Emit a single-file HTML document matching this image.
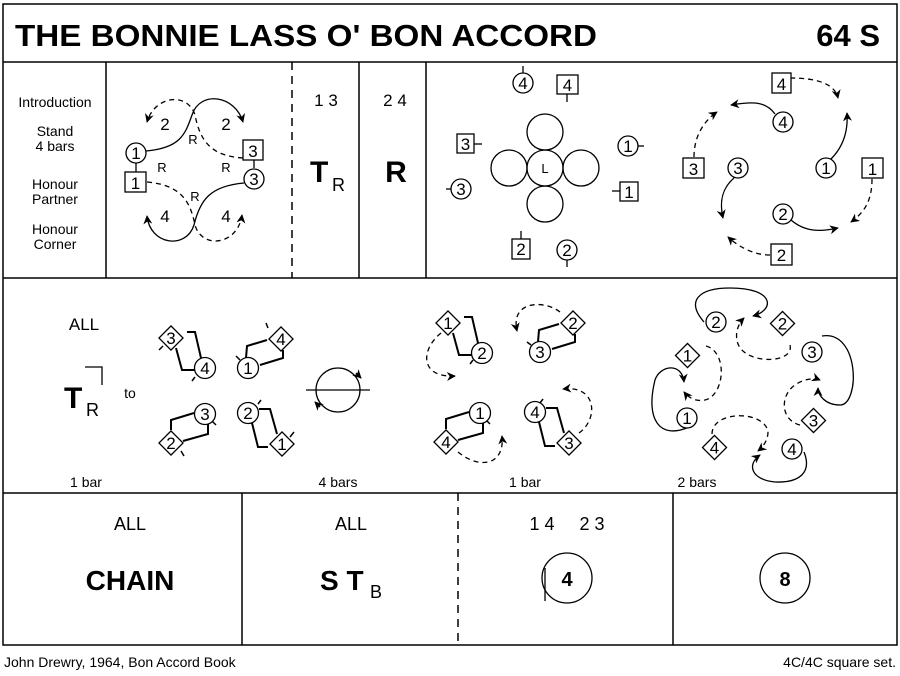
<!DOCTYPE html>
<html><head><meta charset="utf-8"><style>
html,body{margin:0;padding:0;background:#fff}
svg{display:block}
text{font-family:"Liberation Sans",Arial,sans-serif;fill:#000}
</style></head><body>
<svg width="900" height="676" viewBox="0 0 900 676" xmlns="http://www.w3.org/2000/svg">
<defs>
<marker id="a" viewBox="0 0 10 10" refX="9" refY="5" markerWidth="9" markerHeight="9" orient="auto" markerUnits="userSpaceOnUse">
<path d="M0,0 L10,5 L0,10 L3,5 z" fill="#000"/>
</marker>
</defs>
<g fill="none" stroke="#000" stroke-width="1.5">
<rect x="3" y="4" width="894" height="641"/>
<line x1="3" y1="62" x2="897" y2="62"/>
<line x1="3" y1="278" x2="897" y2="278"/>
<line x1="3" y1="493" x2="897" y2="493"/>
<line x1="106" y1="62" x2="106" y2="278"/>
<line x1="292" y1="62" x2="292" y2="278" stroke-dasharray="8,6"/>
<line x1="359" y1="62" x2="359" y2="278"/>
<line x1="426" y1="62" x2="426" y2="278"/>
<line x1="242" y1="493" x2="242" y2="645"/>
<line x1="458" y1="493" x2="458" y2="645" stroke-dasharray="8,6"/>
<line x1="673" y1="493" x2="673" y2="645"/>
</g>
<text x="15" y="46" font-size="31" font-weight="bold" textLength="582" lengthAdjust="spacingAndGlyphs">THE BONNIE LASS O' BON ACCORD</text>
<text x="880" y="46" font-size="31" font-weight="bold" text-anchor="end">64 S</text>

<g font-size="14" text-anchor="middle">
<text x="55" y="107">Introduction</text>
<text x="55" y="136">Stand</text><text x="55" y="151">4 bars</text>
<text x="55" y="189">Honour</text><text x="55" y="204">Partner</text>
<text x="55" y="234">Honour</text><text x="55" y="249">Corner</text>
</g>

<!-- panel 2 -->
<g fill="none" stroke="#000" stroke-width="1.3">
<path d="M146,151 C180,148 185,135 192,115 C200,90 235,95 243,122" marker-end="url(#a)"/>
<path d="M243,158 C210,156 200,140 195,115 C188,92 155,95 147,122" stroke-dasharray="5,4" marker-end="url(#a)"/>
<path d="M147,182 C180,185 190,200 195,225 C202,250 238,245 242,215" stroke-dasharray="5,4" marker-end="url(#a)"/>
<path d="M244,183 C210,186 200,200 194,225 C186,250 150,245 147,216" marker-end="url(#a)"/>
<circle cx="136" cy="153" r="10" fill="#fff"/>
<line x1="136" y1="163" x2="136" y2="172"/>
<rect x="125" y="172" width="21" height="20" fill="#fff"/>
<rect x="243" y="140" width="20" height="20" fill="#fff"/>
<line x1="254" y1="160" x2="254" y2="168"/>
<circle cx="254" cy="179" r="10" fill="#fff"/>
</g>
<g font-size="17" text-anchor="middle">
<text x="136" y="159">1</text><text x="135.5" y="189">1</text>
<text x="253" y="157">3</text><text x="254" y="185">3</text>
<text x="165" y="130">2</text><text x="226" y="130">2</text>
<text x="165" y="222">4</text><text x="226" y="222">4</text>
</g>
<g font-size="13" text-anchor="middle">
<text x="193" y="144">R</text><text x="162" y="172">R</text><text x="226" y="172">R</text><text x="195" y="201">R</text>
</g>

<g font-size="17" text-anchor="middle">
<text x="326" y="106">1 3</text><text x="395" y="106">2 4</text>
</g>
<text x="310" y="182" font-size="30" font-weight="bold">T</text>
<text x="332" y="191" font-size="18">R</text>
<text x="396" y="182" font-size="30" font-weight="bold" text-anchor="middle">R</text>

<!-- panel 5 -->
<g fill="none" stroke="#000" stroke-width="1.3">
<circle cx="545" cy="132" r="18"/><circle cx="545" cy="168" r="18"/>
<circle cx="509" cy="168" r="18"/><circle cx="581" cy="168" r="18"/>
<circle cx="545" cy="204" r="18"/>
<circle cx="523" cy="83" r="10"/><line x1="523" y1="73" x2="523" y2="66"/>
<rect x="557" y="75" width="21" height="19"/><line x1="567" y1="94" x2="567" y2="102"/>
<rect x="457" y="134" width="17" height="19"/><line x1="474" y1="144" x2="482" y2="144"/>
<circle cx="461" cy="189" r="10"/><line x1="451" y1="189" x2="446" y2="189"/>
<circle cx="628" cy="146" r="10"/><line x1="638" y1="146" x2="644" y2="146"/>
<rect x="620" y="182" width="18" height="19"/><line x1="620" y1="191" x2="612" y2="191"/>
<rect x="512" y="239" width="18" height="20"/><line x1="521" y1="239" x2="521" y2="231"/>
<circle cx="567" cy="250" r="10"/><line x1="567" y1="260" x2="567" y2="267"/>
</g>
<g font-size="17" text-anchor="middle">
<text x="523" y="89">4</text><text x="567.5" y="91">4</text><text x="465.5" y="150">3</text>
<text x="461" y="195">3</text><text x="628" y="152">1</text><text x="629" y="198">1</text>
<text x="521" y="255">2</text><text x="567" y="256">2</text>
</g>
<text x="545" y="173" font-size="13" text-anchor="middle">L</text>

<!-- panel 6 -->
<g fill="none" stroke="#000" stroke-width="1.3">
<path d="M790,78 C820,78 835,85 838,98" stroke-dasharray="5,4" marker-end="url(#a)"/>
<path d="M775,114 C765,100 750,102 731,105" marker-end="url(#a)"/>
<path d="M694,157 C694,135 705,120 717,112" stroke-dasharray="5,4" marker-end="url(#a)"/>
<path d="M734,178 C720,190 720,205 723,218" marker-end="url(#a)"/>
<path d="M831,159 C845,145 848,128 847,113" marker-end="url(#a)"/>
<path d="M872,179 C872,200 865,212 851,222" stroke-dasharray="5,4" marker-end="url(#a)"/>
<path d="M791,220 C805,232 820,232 838,228" marker-end="url(#a)"/>
<path d="M770,255 C755,255 740,248 728,237" stroke-dasharray="5,4" marker-end="url(#a)"/>
<rect x="772" y="73" width="19" height="20" fill="#fff"/>
<circle cx="783" cy="122" r="10" fill="#fff"/>
<rect x="683" y="158" width="21" height="20" fill="#fff"/>
<circle cx="738" cy="168" r="10" fill="#fff"/>
<circle cx="826" cy="168" r="10" fill="#fff"/>
<rect x="862" y="158" width="21" height="20" fill="#fff"/>
<circle cx="783" cy="214" r="10" fill="#fff"/>
<rect x="771" y="244" width="21" height="21" fill="#fff"/>
</g>
<g font-size="17" text-anchor="middle">
<text x="781.5" y="90">4</text><text x="783" y="128">4</text><text x="693.5" y="175">3</text>
<text x="738" y="174">3</text><text x="826" y="174">1</text><text x="872.5" y="175">1</text>
<text x="783" y="220">2</text><text x="781.5" y="261">2</text>
</g>

<!-- row 2 -->
<text x="84" y="330" font-size="17" text-anchor="middle">ALL</text>
<text x="64" y="408" font-size="30" font-weight="bold">T</text>
<text x="86" y="416" font-size="18">R</text>
<path d="M85,367 L102,367 L102,385" fill="none" stroke="#000" stroke-width="1.3"/>
<text x="130" y="398" font-size="14" text-anchor="middle">to</text>

<!-- couples group 2 -->
<g fill="none" stroke="#000" stroke-width="2">
<path d="M187,332 L195,332 L201,358 M176,348 L182,370 L195,370"/>
<path d="M267,340 L247,346 L246,358 M260,365 L283,358 L283,350"/>
<path d="M194,413 L171,420 L171,430 M183,441 L208,434 L208,423"/>
<path d="M259,409 L270,409 L277,434 M252,423 L258,447 L268,447"/>
<!-- group 3 copies -->
<g transform="translate(277,-15)"><path d="M187,332 L195,332 L201,358 M176,348 L182,370 L195,370"/></g>
<g transform="translate(292,-16)"><path d="M267,340 L247,346 L246,358 M260,365 L283,358 L283,350"/></g>
<g transform="translate(275,-1)"><path d="M194,413 L171,420 L171,430 M183,441 L208,434 L208,423"/></g>
<g transform="translate(287,-1)"><path d="M259,409 L270,409 L277,434 M252,423 L258,447 L268,447"/></g>
</g>
<g fill="none" stroke="#000" stroke-width="1.5">
<line x1="163" y1="346" x2="159" y2="350"/><line x1="195" y1="377" x2="192" y2="381"/>
<line x1="268" y1="328" x2="266" y2="323"/><line x1="240" y1="360" x2="236" y2="356"/>
<line x1="212" y1="421" x2="216" y2="425"/><line x1="181" y1="451" x2="184" y2="456"/>
<line x1="258" y1="404" x2="261" y2="400"/><line x1="290" y1="437" x2="294" y2="432"/>
<line x1="473" y1="360" x2="470" y2="364"/>
<line x1="531" y1="345" x2="527" y2="342"/>
<line x1="486" y1="420" x2="490" y2="424"/>
<line x1="540" y1="403" x2="543" y2="399"/>
</g>
<g fill="none" stroke="#000" stroke-width="1.3">
<circle cx="338" cy="390" r="22"/>
<line x1="306" y1="390" x2="370" y2="390"/>
<path d="M356,373 L361,378" marker-end="url(#a)"/>
<path d="M320,407 L315,402" marker-end="url(#a)"/>

<path d="M441,333 C420,350 420,378 455,376" stroke-dasharray="5,4" marker-end="url(#a)"/>
<path d="M560,312 C545,300 510,300 517,331" stroke-dasharray="5,4" marker-end="url(#a)"/>
<path d="M458,452 C480,470 505,465 502,436" stroke-dasharray="5,4" marker-end="url(#a)"/>
<path d="M579,433 C598,420 598,385 563,389" stroke-dasharray="5,4" marker-end="url(#a)"/>

<path d="M704,322 C685,300 700,288 730,288 C775,288 775,310 753,316" marker-end="url(#a)"/>
<path d="M790,345 C795,365 740,365 737,340 C735,330 740,322 744,318" stroke-dasharray="5,4" marker-end="url(#a)"/>
<path d="M706,346 C728,352 725,395 705,400 C695,402 688,397 684,392" stroke-dasharray="5,4" marker-end="url(#a)"/>
<path d="M689,427 C660,440 645,420 655,380 C660,365 682,362 684,382" marker-end="url(#a)"/>
<path d="M822,336 C860,330 860,405 840,405 C825,405 818,395 818,388" marker-end="url(#a)"/>
<path d="M800,425 C780,420 780,395 795,385 C805,378 815,378 820,380" stroke-dasharray="5,4" marker-end="url(#a)"/>
<path d="M712,434 C712,410 765,410 768,432 C768,440 763,447 758,451" stroke-dasharray="5,4" marker-end="url(#a)"/>
<path d="M804,452 C812,472 800,483 775,482 C752,480 746,465 760,455" marker-end="url(#a)"/>

<g fill="#fff">
<rect x="162.5" y="329.5" width="17" height="17" transform="rotate(45 171 338)"/>
<circle cx="205" cy="368" r="10.5"/>
<rect x="272.5" y="330.5" width="17" height="17" transform="rotate(45 281 339)"/>
<circle cx="248" cy="368" r="10.5"/>
<circle cx="205" cy="414" r="10.5"/>
<rect x="162.5" y="434.5" width="17" height="17" transform="rotate(45 171 443)"/>
<circle cx="248" cy="413" r="10.5"/>
<rect x="273.5" y="435.5" width="17" height="17" transform="rotate(45 282 444)"/>

<rect x="439.5" y="314.5" width="17" height="17" transform="rotate(45 448 323)"/>
<circle cx="482" cy="353" r="10.5"/>
<rect x="564.5" y="314.5" width="17" height="17" transform="rotate(45 573 323)"/>
<circle cx="540" cy="352" r="10.5"/>
<circle cx="480" cy="413" r="10.5"/>
<rect x="437.5" y="433.5" width="17" height="17" transform="rotate(45 446 442)"/>
<circle cx="535" cy="412" r="10.5"/>
<rect x="560.5" y="434.5" width="17" height="17" transform="rotate(45 569 443)"/>

<circle cx="716" cy="322" r="10"/>
<rect x="774" y="315" width="17" height="17" transform="rotate(45 782.5 323.5)"/>
<circle cx="812" cy="352" r="10"/>
<rect x="805" y="412" width="17" height="17" transform="rotate(45 813.5 420.5)"/>
<circle cx="792" cy="449" r="10"/>
<rect x="706" y="439" width="17" height="17" transform="rotate(45 714.5 447.5)"/>
<circle cx="687" cy="418" r="10"/>
<rect x="679" y="347" width="17" height="17" transform="rotate(45 687.5 355.5)"/>
</g>
</g>
<g font-size="17" text-anchor="middle">
<text x="171" y="344">3</text><text x="205" y="374">4</text>
<text x="281" y="345">4</text><text x="248" y="374">1</text>
<text x="205" y="420">3</text><text x="171" y="449">2</text>
<text x="248" y="419">2</text><text x="282" y="450">1</text>
<text x="448" y="329">1</text><text x="482" y="359">2</text>
<text x="573" y="329">2</text><text x="540" y="358">3</text>
<text x="480" y="419">1</text><text x="446" y="448">4</text>
<text x="535" y="418">4</text><text x="569" y="449">3</text>
<text x="716" y="328">2</text><text x="782.5" y="329.5">2</text>
<text x="812" y="358">3</text><text x="813.5" y="426.5">3</text>
<text x="792" y="455">4</text><text x="714.5" y="453.5">4</text>
<text x="687" y="424">1</text><text x="687.5" y="361.5">1</text>
</g>
<g font-size="14" text-anchor="middle">
<text x="86" y="487">1 bar</text><text x="338" y="487">4 bars</text>
<text x="525" y="487">1 bar</text><text x="697" y="487">2 bars</text>
</g>

<!-- row 3 -->
<g font-size="18" text-anchor="middle">
<text x="130" y="530">ALL</text><text x="351" y="530">ALL</text>
<text x="542" y="530">1 4</text><text x="592" y="530">2 3</text>
</g>
<text x="130" y="590" font-size="28" font-weight="bold" text-anchor="middle">CHAIN</text>
<text x="320" y="590" font-size="28" font-weight="bold">S T</text>
<text x="370" y="598" font-size="18">B</text>
<g fill="none" stroke="#000" stroke-width="1.3">
<circle cx="567" cy="578" r="25"/>
<line x1="545" y1="568" x2="545" y2="601"/>
<circle cx="785" cy="578" r="25"/>
</g>
<text x="567" y="586" font-size="20" font-weight="bold" text-anchor="middle">4</text>
<text x="785" y="586" font-size="20" font-weight="bold" text-anchor="middle">8</text>

<text x="4" y="667" font-size="14">John Drewry, 1964, Bon Accord Book</text>
<text x="896" y="667" font-size="14" text-anchor="end">4C/4C  square set.</text>
</svg>
</body></html>
